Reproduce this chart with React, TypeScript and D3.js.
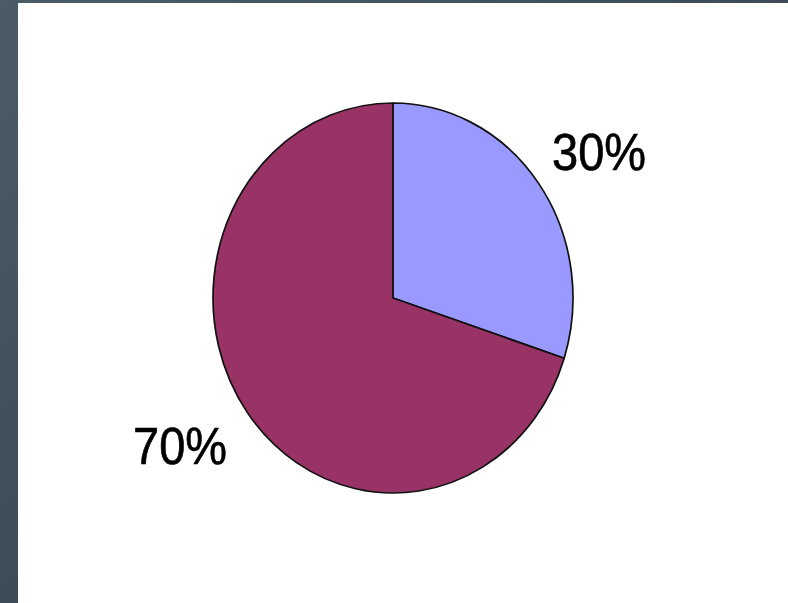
import React from "react";
import * as d3 from "d3";

const categories = ["A", "B"];
const values = [30, 70];
const labels = ["30%", "70%"];
const colors = ["#9999ff", "#993366"];

const W = 788;
const H = 603;

export default function App() {
  const cx = 393;
  const cy = 298;
  const r = 180;
  const sy = 195 / 180;

  const pie = d3.pie<number>().sort(null).value((d) => d);
  const arcs = pie(values);
  const arc = d3.arc<d3.PieArcDatum<number>>().innerRadius(0).outerRadius(r);

  const labelPos = [
    { x: 552, y: 170 },
    { x: 133, y: 464 },
  ];

  return (
    <svg
      width={W}
      height={H}
      style={{ position: "fixed", left: 0, top: 0, display: "block" }}
    >
      <defs>
        <linearGradient id="bg" x1="0" y1="0" x2="1" y2="1">
          <stop offset="0" stopColor="#4b5c68" />
          <stop offset="1" stopColor="#2f3c47" />
        </linearGradient>
      </defs>
      <rect x={0} y={0} width={W} height={H} fill="url(#bg)" />
      <rect x={18} y={3} width={W - 18} height={H - 3} fill="#ffffff" />
      <g transform={`translate(${cx},${cy}) scale(1,${sy})`}>
        {arcs.map((a, i) => (
          <path
            key={categories[i]}
            d={arc(a) || ""}
            fill={colors[i]}
            stroke="#111"
            strokeWidth={1.7}
            strokeLinejoin="round"
            vectorEffect="non-scaling-stroke"
          />
        ))}
      </g>
      {labels.map((t, i) => (
        <text
          key={t}
          transform={`translate(${labelPos[i].x},${labelPos[i].y}) scale(1,1.1)`}
          fontFamily="'Liberation Sans', Arial, sans-serif"
          fontSize={47}
          fill="#000"
          stroke="#000"
          strokeWidth={0.6}
        >
          {t}
        </text>
      ))}
    </svg>
  );
}
